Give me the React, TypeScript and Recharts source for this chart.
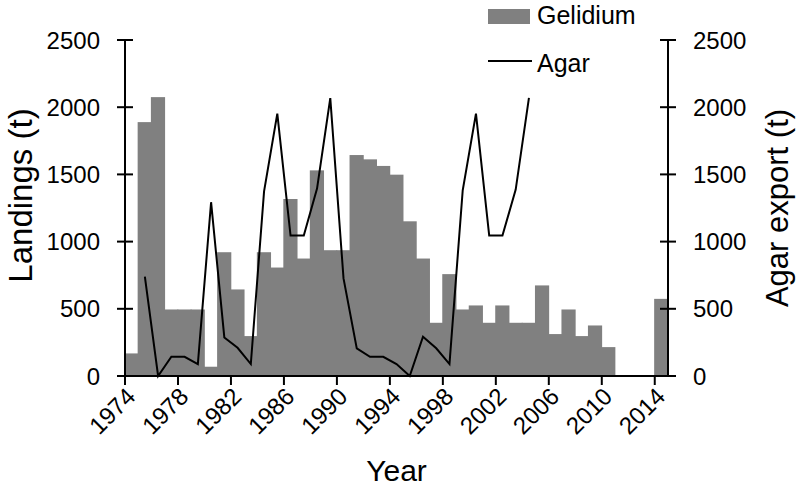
import React from "react";
import { ComposedChart, Bar, Line, XAxis, YAxis, Legend } from "recharts";

const years = [
  1974, 1975, 1976, 1977, 1978, 1979, 1980, 1981, 1982, 1983, 1984, 1985, 1986, 1987,
  1988, 1989, 1990, 1991, 1992, 1993, 1994, 1995, 1996, 1997, 1998, 1999, 2000, 2001,
  2002, 2003, 2004, 2005, 2006, 2007, 2008, 2009, 2010, 2011, 2012, 2013, 2014,
];

// landings per year (t)
const gelidium = [
  168, 1889, 2075, 495, 495, 495, 69, 921, 644, 297, 921, 807, 1317, 874,
  1530, 936, 936, 1644, 1612, 1563, 1498, 1151, 874, 396, 758, 495, 525, 396,
  525, 396, 396, 674, 312, 495, 297, 376, 215, 0, 0, 0, 574,
];

// agar export, 1975 - 2004 (t)
const agarYears = [
  1975, 1976, 1977, 1978, 1979, 1980, 1981, 1982, 1983, 1984, 1985, 1986, 1987, 1988, 1989,
  1990, 1991, 1992, 1993, 1994, 1995, 1996, 1997, 1998, 1999, 2000, 2001, 2002, 2003, 2004,
];
const agar = [
  740, 0, 143, 143, 89, 1293, 287, 210, 89, 1374, 1952, 1045, 1045, 1394, 2068,
  726, 206, 143, 143, 89, 0, 292, 206, 89, 1382, 1952, 1045, 1045, 1387, 2070,
];

const xTicks = [1974, 1978, 1982, 1986, 1990, 1994, 1998, 2002, 2006, 2010, 2014];
const yTicks = [0, 500, 1000, 1500, 2000, 2500];

const GRAY = "#808080";
const FONT = "'Liberation Sans', Arial, Helvetica, sans-serif";

const data = years.map((year, i) => {
  const k = agarYears.indexOf(year);
  return {
    x: year + 0.5,
    gelidium: gelidium[i],
    agar: k >= 0 ? agar[k] : null,
  };
});

const XTick = (props: any) => {
  const { x, y, payload } = props;
  return (
    <text
      transform={`translate(${x + 12},${y + 11}) rotate(-45)`}
      textAnchor="end"
      fontSize={24}
      fontFamily={FONT}
      fill="#000"
    >
      {payload.value}
    </text>
  );
};

const LeftTick = (props: any) => {
  const { x, y, payload } = props;
  const ax = x + 25;
  return (
    <g>
      <line x1={ax} x2={ax + 8} y1={y} y2={y} stroke="#000" strokeWidth={2} />
      <text x={x} y={y} dy="0.36em" textAnchor="end" fontSize={24} fontFamily={FONT} fill="#000">
        {payload.value}
      </text>
    </g>
  );
};

const RightTick = (props: any) => {
  const { x, y, payload } = props;
  const ax = x - 25;
  return (
    <g>
      <line x1={ax - 8} x2={ax} y1={y} y2={y} stroke="#000" strokeWidth={2} />
      <text x={x} y={y} dy="0.36em" textAnchor="start" fontSize={24} fontFamily={FONT} fill="#000">
        {payload.value}
      </text>
    </g>
  );
};

// bars widened a little so neighbouring years join without seams
const BarShape = (props: any) => {
  const { x, y, width, height } = props;
  if (!height || height <= 0) return null;
  return <rect x={x - 0.6} y={y} width={width + 1.2} height={height} fill={GRAY} />;
};

const LegendBox = () => (
  <svg width={180} height={80} style={{ display: "block" }}>
    <rect x={0} y={9} width={42} height={15} fill={GRAY} />
    <text x={49} y={24} fontSize={25} fontFamily={FONT} fill="#000">Gelidium</text>
    <line x1={0} x2={44} y1={61} y2={61} stroke="#000" strokeWidth={2} />
    <text x={49} y={71.5} fontSize={25} fontFamily={FONT} fill="#000">Agar</text>
  </svg>
);

const axisStyle = { stroke: "#000", strokeWidth: 2 };

export default function App() {
  return (
    <div style={{ position: "absolute", left: 0, top: 0, background: "#fff" }}>
      <ComposedChart
        width={799}
        height={496}
        data={data}
        margin={{ top: 40, right: 0, bottom: 0, left: 0 }}
        barCategoryGap={0}
      >
        <XAxis
          dataKey="x"
          type="number"
          domain={[1974, 2015]}
          ticks={xTicks}
          interval={0}
          allowDataOverflow
          height={120}
          axisLine={axisStyle}
          tickLine={axisStyle}
          tickSize={9}
          tick={<XTick />}
          label={{
            content: (p: any) => {
              const vb = p.viewBox;
              return (
                <text x={vb.x + vb.width / 2} y={vb.y + 105} textAnchor="middle" fontSize={30} fontFamily={FONT} fill="#000">
                  Year
                </text>
              );
            },
          }}
        />
        <YAxis
          yAxisId="left"
          domain={[0, 2500]}
          ticks={yTicks}
          interval={0}
          width={125}
          axisLine={axisStyle}
          tickLine={axisStyle}
          tickSize={8}
          tickMargin={17}
          tick={<LeftTick />}
          label={{
            content: () => (
              <text transform="translate(32,195.5) rotate(-90)" textAnchor="middle" fontSize={33} fontFamily={FONT} fill="#000">
                Landings (t)
              </text>
            ),
          }}
        />
        <YAxis
          yAxisId="right"
          orientation="right"
          domain={[0, 2500]}
          ticks={yTicks}
          interval={0}
          width={131}
          axisLine={axisStyle}
          tickLine={axisStyle}
          tickSize={8}
          tickMargin={17}
          tick={<RightTick />}
          label={{
            content: () => (
              <text transform="translate(788,208) rotate(-90)" textAnchor="middle" fontSize={31} fontFamily={FONT} fill="#000">
                Agar export (t)
              </text>
            ),
          }}
        />
        <Legend
          layout="vertical"
          align="center"
          verticalAlign="middle"
          wrapperStyle={{ left: 488, top: 0, width: 180, height: 80 }}
          content={<LegendBox />}
        />
        <Bar
          yAxisId="left"
          dataKey="gelidium"
          name="Gelidium"
          fill={GRAY}
          shape={<BarShape />}
          isAnimationActive={false}
        />
        <Line
          yAxisId="right"
          dataKey="agar"
          name="Agar"
          type="linear"
          stroke="#000"
          strokeWidth={2}
          dot={false}
          activeDot={false}
          connectNulls={false}
          isAnimationActive={false}
        />
      </ComposedChart>
    </div>
  );
}
